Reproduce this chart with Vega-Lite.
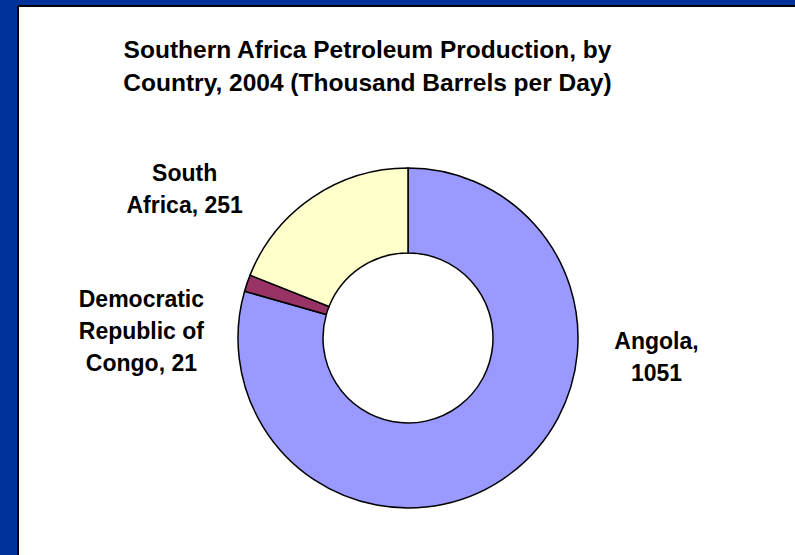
{
  "$schema": "https://vega.github.io/schema/vega-lite/v6.json",
  "width": 795,
  "height": 555,
  "autosize": {"type": "fit", "contains": "padding"},
  "padding": {"left": 18, "top": 6, "right": 0, "bottom": 0},
  "background": "#003399",
  "view": {"fill": "#ffffff", "stroke": "#000000", "strokeWidth": 2, "strokeDash": [777, 1326, 549, 0]},
  "title": {
    "text": ["Southern Africa Petroleum Production, by", "Country, 2004 (Thousand Barrels per Day)"],
    "font": "Liberation Sans",
    "fontSize": 24.5,
    "fontWeight": "bold",
    "color": "#000000",
    "anchor": "middle",
    "dx": -39,
    "offset": -90,
    "lineHeight": 33
  },
  "data": {
    "values": [
      {"country": "Angola", "value": 1051, "label": "Angola,\n1051"},
      {"country": "Democratic Republic of Congo", "value": 21, "label": "Democratic\nRepublic of\nCongo, 21"},
      {"country": "South Africa", "value": 251, "label": "South\nAfrica, 251"}
    ]
  },
  "encoding": {
    "theta": {"field": "value", "type": "quantitative", "stack": true},
    "color": {
      "field": "country",
      "type": "nominal",
      "scale": {
        "domain": ["Angola", "Democratic Republic of Congo", "South Africa"],
        "range": ["#9999FF", "#993366", "#FFFFCC"]
      },
      "legend": null
    }
  },
  "layer": [
    {
      "mark": {"type": "arc", "outerRadius": 170, "innerRadius": 85, "stroke": "#000000", "strokeWidth": 1.5, "xOffset": 1.5, "yOffset": 57.5}
    },
    {
      "mark": {
        "type": "text",
        "radius": 250,
        "xOffset": 1.5,
        "yOffset": 57.5,
        "font": "Liberation Sans",
        "fontSize": 23,
        "fontWeight": "bold",
        "lineBreak": "\n",
        "lineHeight": 32,
        "align": "center",
        "baseline": "middle",
        "dx": {"expr": "datum.country === 'Angola' ? 98 : datum.country === 'South Africa' ? -83 : -30"},
        "dy": {"expr": "datum.country === 'Angola' ? -196 : datum.country === 'South Africa' ? 43 : 43"}
      },
      "encoding": {
        "text": {"field": "label"},
        "color": {"value": "#000000"}
      }
    }
  ]
}
